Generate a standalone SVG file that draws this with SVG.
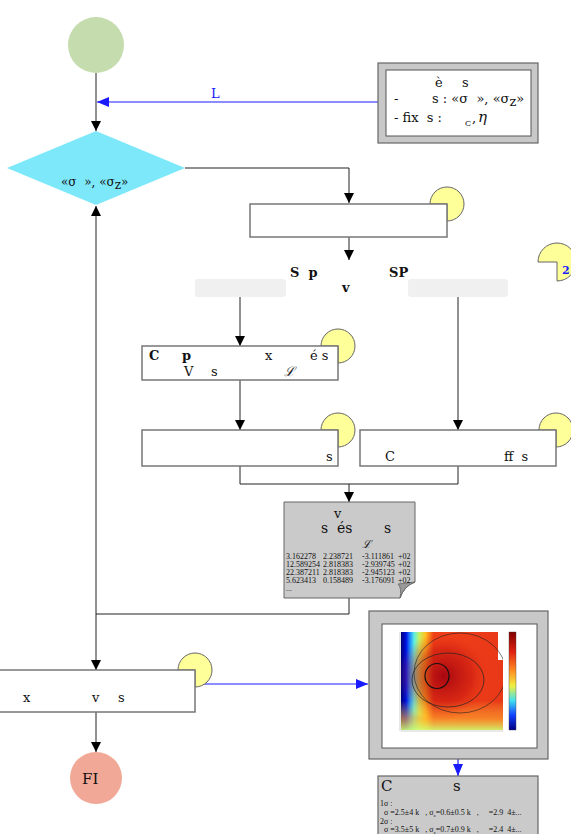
<svg xmlns="http://www.w3.org/2000/svg" width="571" height="834" viewBox="0 0 571 834">
<style>
text{font-family:"DejaVu Serif","Liberation Serif",serif;font-size:13px;fill:#111;white-space:pre}
.box{fill:#fff;stroke:#777;stroke-width:1.5}
.badge{fill:#ffff99;stroke:#666;stroke-width:1}
.con{fill:none;stroke:#222;stroke-width:1}
.blue{fill:none;stroke:#1a1aff;stroke-width:1.2}
.b{font-weight:bold}
.sm{font-family:"Liberation Serif",serif;font-size:8px}
.tiny{font-family:"Liberation Serif",serif;font-size:8px}
</style>
<defs>
<marker id="ah" markerWidth="10" markerHeight="12" refX="10" refY="5" orient="auto" markerUnits="userSpaceOnUse"><path d="M0,0 L10,5 L0,10 Z" fill="#000"/></marker>
<marker id="ahb" markerWidth="12" markerHeight="12" refX="12" refY="5" orient="auto" markerUnits="userSpaceOnUse"><path d="M0,0 L12,5 L0,10 Z" fill="#1a1aff"/></marker>
<linearGradient id="hx" x1="0" y1="0" x2="1" y2="0">
<stop offset="0" stop-color="#00007a"/><stop offset="0.05" stop-color="#0010e0"/><stop offset="0.09" stop-color="#2090ff"/><stop offset="0.13" stop-color="#60f0e0"/><stop offset="0.18" stop-color="#c8f060"/><stop offset="0.24" stop-color="#ffc020"/><stop offset="0.32" stop-color="#f04018"/><stop offset="1" stop-color="#e83818"/>
</linearGradient>
<linearGradient id="hy" x1="0" y1="0" x2="0" y2="1">
<stop offset="0.7" stop-color="#ffe040" stop-opacity="0"/><stop offset="0.88" stop-color="#ffb030" stop-opacity="0.6"/><stop offset="1" stop-color="#d0ff70" stop-opacity="0.9"/>
</linearGradient>
<radialGradient id="hr" cx="0.42" cy="0.45" r="0.45">
<stop offset="0" stop-color="#a00010" stop-opacity="0.9"/><stop offset="0.6" stop-color="#c01010" stop-opacity="0.5"/><stop offset="1" stop-color="#e83818" stop-opacity="0"/>
</radialGradient>
<linearGradient id="cb" x1="0" y1="0" x2="0" y2="1">
<stop offset="0" stop-color="#800000"/><stop offset="0.2" stop-color="#e02010"/><stop offset="0.4" stop-color="#ff9020"/><stop offset="0.55" stop-color="#f0f040"/><stop offset="0.7" stop-color="#40e0f0"/><stop offset="0.85" stop-color="#1040ff"/><stop offset="1" stop-color="#000080"/>
</linearGradient>
<clipPath id="hc"><rect x="401" y="632" width="102" height="98"/></clipPath>
</defs>

<g id="connectors">
<path class="con" d="M96,73 V131" marker-end="url(#ah)"/>
<path class="blue" d="M378,102 H97" marker-end="url(#ahb)"/>
<text x="211" y="98" style="fill:#1a1aff">L</text>
<path class="con" d="M185,168 H349 V203" marker-end="url(#ah)"/>
<path class="con" d="M349,237 V260" marker-end="url(#ah)"/>
<path class="con" d="M240,297 V346" marker-end="url(#ah)"/>
<path class="con" d="M458,297 V430" marker-end="url(#ah)"/>
<path class="con" d="M240,380 V430" marker-end="url(#ah)"/>
<path class="con" d="M240,466 V484 H458 V466"/>
<path class="con" d="M349,484 V502" marker-end="url(#ah)"/>
<path class="con" d="M349,598 V614 H96"/>
<path class="con" d="M96,614 V206" marker-end="url(#ah)"/>
<path class="con" d="M96,614 V670" marker-end="url(#ah)"/>
<path class="con" d="M96,712 V752" marker-end="url(#ah)"/>
<path class="blue" d="M197,684 H368" marker-end="url(#ahb)"/>
<path class="blue" d="M458,759 V776" marker-end="url(#ahb)"/>
</g>

<g id="start"><circle cx="96" cy="45" r="28" fill="#c5dcae"/></g>

<g id="params">
<rect x="378" y="63" width="160" height="80" fill="#c8c8c8" stroke="#666" stroke-width="1.2"/>
<rect x="386" y="70" width="145" height="66" fill="#fff" stroke="#555" stroke-width="1"/>
<text x="435" y="87">è</text><text x="462" y="87">s</text>
<text x="394" y="103">-</text><text x="432" y="103">s : «σ  », «σ<tspan dy="3">z</tspan><tspan dy="-3">»</tspan></text>
<text x="394" y="122">- fix  s :</text><text x="465" y="126" style="font-size:8px">C</text><text x="472" y="122">,</text><text x="478" y="122" style="font-style:italic;font-size:15px">η</text>
</g>

<g id="decision">
<polygon points="96,131 185,168 96,205 7,168" fill="#7de8fa"/>
<text x="61" y="186" style="font-size:12px">«σ  », «σ<tspan dy="3">z</tspan><tspan dy="-3">»</tspan></text>
</g>

<g id="step1">
<path class="badge" d="M447,204 H430 A17,17 0 1 1 447,221 Z"/>
<rect class="box" x="250" y="204" width="197" height="33"/>
</g>

<g id="split">
<text x="290" y="277" class="b">S  p</text>
<text x="342" y="292" class="b">v</text>
<text x="389" y="277" class="b">SP</text>
<rect x="195" y="279" width="91" height="18" rx="3" fill="#f0f0f0"/>
<rect x="408" y="279" width="100" height="18" rx="3" fill="#f0f0f0"/>
<path class="badge" d="M557,262 H538 A19,19 0 1 1 557,281 Z"/>
<text x="562" y="274" class="b" style="fill:#1a1aff;font-size:11px">2</text>
</g>

<g id="step2">
<path class="badge" d="M338,346 H321 A17,17 0 1 1 338,363 Z"/>
<rect class="box" x="142" y="346" width="196" height="34"/>
<text x="149" y="360" class="b">C</text><text x="182" y="360" class="b">p</text><text x="265" y="360">x</text><text x="310" y="360">é s</text>
<text x="184" y="376">V</text><text x="211" y="376">s</text><text x="284" y="376" style="font-style:italic">ℒ</text>
</g>

<g id="step3">
<path class="badge" d="M338,430 H321 A17,17 0 1 1 338,447 Z"/>
<rect class="box" x="142" y="430" width="196" height="36"/>
<text x="326" y="461">s</text>
</g>

<g id="step4">
<path class="badge" d="M556,430 H539 A17,17 0 1 1 556,447 Z"/>
<rect class="box" x="360" y="430" width="196" height="36"/>
<text x="385" y="461">C</text><text x="504" y="461">ff  s</text>
</g>

<g id="results-file">
<path d="M284,502 H415 V582 Q404,586 400,598 H284 Z" fill="#cacaca" stroke="#666" stroke-width="1"/>
<path d="M415,582 Q404,586 400,598 Q402,588 398,584 Z" fill="#999" stroke="#666" stroke-width="0.8"/>
<text x="334" y="518">v</text>
<text x="321" y="533" style="font-size:14px">s  és</text><text x="384" y="533" style="font-size:14px">s</text>
<text x="362" y="548" style="font-style:italic;font-size:11px">ℒ</text>
<text x="286" y="559" class="sm">3.162278</text><text x="323" y="559" class="sm">2.238721</text><text x="362" y="559" class="sm">-3.111861</text><text x="398" y="559" class="sm">+02</text>
<text x="286" y="567" class="sm">12.589254</text><text x="323" y="567" class="sm">2.818383</text><text x="362" y="567" class="sm">-2.939745</text><text x="398" y="567" class="sm">+02</text>
<text x="286" y="575" class="sm">22.387211</text><text x="323" y="575" class="sm">2.818383</text><text x="362" y="575" class="sm">-2.945123</text><text x="398" y="575" class="sm">+02</text>
<text x="286" y="583" class="sm">5.623413</text><text x="323" y="583" class="sm">0.158489</text><text x="362" y="583" class="sm">-3.176091</text><text x="398" y="583" class="sm">+02</text>
<text x="286" y="591" class="sm">...</text>
</g>

<g id="step5">
<path class="badge" d="M195,670 H178 A17,17 0 1 1 195,687 Z"/>
<rect class="box" x="-5" y="670" width="200" height="42"/>
<text x="23" y="702">x</text><text x="92" y="702">v</text><text x="118" y="702">s</text>
</g>

<g id="end">
<circle cx="96" cy="778" r="26" fill="#f2a896"/>
<text x="82" y="784" style="font-size:15px">FI</text>
</g>

<g id="plot">
<rect x="369" y="611" width="179" height="148" fill="#c8c8c8" stroke="#666" stroke-width="1.2"/>
<rect x="382" y="624" width="155" height="124" fill="#fff" stroke="#555" stroke-width="1"/>
<g clip-path="url(#hc)">
<rect x="401" y="632" width="102" height="98" fill="url(#hx)"/>
<rect x="401" y="632" width="102" height="98" fill="url(#hy)"/>
<rect x="401" y="632" width="102" height="98" fill="url(#hr)"/>
<rect x="498" y="632" width="6" height="28" fill="#fff"/>
<ellipse cx="460" cy="673" rx="46" ry="40" fill="none" stroke="#222" stroke-width="0.6"/>
<ellipse cx="448" cy="680" rx="36" ry="27" fill="none" stroke="#222" stroke-width="0.7"/>
<ellipse cx="437" cy="676" rx="12" ry="12.5" fill="none" stroke="#111" stroke-width="1.2"/>
</g>
<rect x="509" y="632" width="7" height="98" fill="url(#cb)" stroke="#444" stroke-width="0.4"/>
<path d="M401,731 H503 M400,632 V731" stroke="#888" stroke-width="0.4" fill="none"/>
</g>

<g id="credible">
<rect x="378" y="776" width="160" height="62" fill="#cacaca" stroke="#666" stroke-width="1.2"/>
<text x="381" y="791" style="font-size:15px">C</text><text x="453" y="791" style="font-size:15px">s</text>
<text x="380" y="806" class="tiny">1σ :</text>
<text x="384" y="815" class="tiny">σ =2.5±4 k   , σ<tspan dy="2" style="font-size:5px">z</tspan><tspan dy="-2">=0.6±0.5 k   ,     =2.9  4±...</tspan></text>
<text x="380" y="824" class="tiny">2σ :</text>
<text x="384" y="832" class="tiny">σ =3.5±5 k   , σ<tspan dy="2" style="font-size:5px">z</tspan><tspan dy="-2">=0.7±0.9 k   ,     =2.4  4±...</tspan></text>
</g>
</svg>
